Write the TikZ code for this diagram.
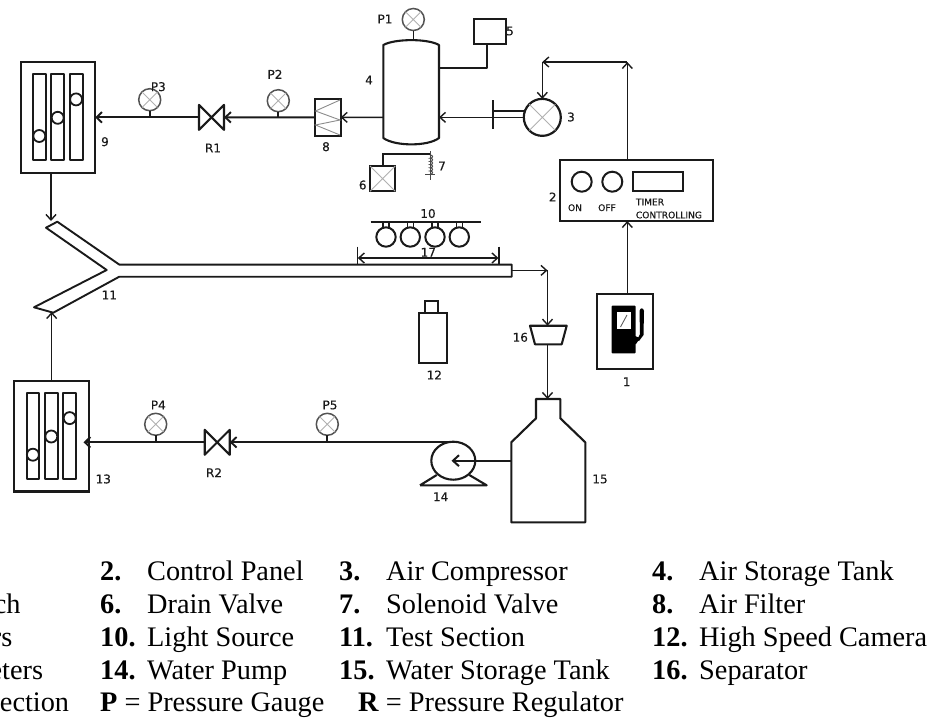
\documentclass[tikz,border=0pt]{standalone}
\usepackage{fontspec}
\setmainfont{Liberation Serif}
\newfontfamily\labfont[FakeBold=0.35]{DejaVu Sans}
\usetikzlibrary{arrows.meta,shapes.geometric}
\definecolor{ink}{HTML}{1A1A1A}
\definecolor{xgray}{HTML}{B0B0B0}
\tikzset{
  barb/.tip={Straight Barb[length=5.5pt,width=10pt,line width=1.4pt]},
  barbb/.tip={Straight Barb[length=5.5pt,width=10.5pt,line width=1.9pt]},
  pipe/.style={draw=ink,line width=2.2pt},
  wire/.style={draw=ink,line width=1.5pt},
  shapeline/.style={draw=ink,line width=2.1pt,line join=round},
  rbox/.style={shape=rectangle,draw=ink,line width=2.1pt,inner sep=0pt,outer sep=0pt,fill=white},
  ghost/.style={shape=rectangle,inner sep=0pt,outer sep=0pt},
  gaugecirc/.style={shape=circle,draw=ink!75,line width=1.5pt,minimum size=22pt,inner sep=0pt,outer sep=0pt},
  ball/.style={shape=circle,draw=ink,fill=white,line width=1.8pt,minimum size=12pt,inner sep=0pt,outer sep=0pt},
  xline/.style={draw=xgray,line width=0.9pt},
  lab/.style={font=\labfont\fontsize{12}{13}\selectfont,text=ink,inner sep=0pt},
  small/.style={font=\labfont\fontsize{9.1}{10}\selectfont,text=ink,inner sep=0pt},
  leg/.style={font=\fontsize{28.3}{29}\selectfont,text=black,inner sep=0pt,anchor=base west},
  legr/.style={font=\fontsize{28.3}{29}\selectfont,text=black,inner sep=0pt,anchor=base east},
}
\newcommand{\dlabel}[4]{\node[lab] (#1) at (#2,#3) {#4};}
\newcommand{\gauge}[3]{%
  \node[gaugecirc] (#1) at (#2,#3) {};
  \draw[xline] (#1.45) -- (#1.225) (#1.135) -- (#1.315);}
\newcommand{\valve}[3]{%
  \node[ghost,minimum width=25pt,minimum height=25pt] (#1) at (#2,#3) {};
  \draw[shapeline] (#1.north west) -- (#1.south east) -- (#1.north east) -- (#1.south west) -- cycle;}
\newcommand{\rotameter}[3]{%
  \node[rbox,anchor=north west,minimum width=74.4pt,minimum height=110.8pt] (#1) at (#2,#3) {};
  \begin{scope}[shift={(#2,#3)}]
    \draw[shapeline,line width=1.8pt] (12.3,12.3) rectangle (25,98.3);
    \draw[shapeline,line width=1.8pt] (30.6,12.3) rectangle (43.6,98.3);
    \draw[shapeline,line width=1.8pt] (49,12.3) rectangle (62,98.3);
    \node[ball] (#1a) at (18.6,74) {};
    \node[ball] (#1b) at (37,55.8) {};
    \node[ball] (#1c) at (55.4,37.4) {};
  \end{scope}}
\newcommand{\bulb}[2]{%
  \node[shape=circle,draw=ink,line width=2pt,minimum size=19.4pt,inner sep=0pt,outer sep=0pt] (#1) at (#2,237) {};
  \draw[ink,line width=1.4pt] (#2-3,221.7) -- (#2-3,228) (#2+3,221.7) -- (#2+3,228);}
\begin{document}
\begin{tikzpicture}[x=1pt,y=-1pt]
\useasboundingbox (0,0) rectangle (935,718);

% --- named free ends
\coordinate (c4L) at (383.3,117.35);
\coordinate (c4R) at (439,117.35);
\coordinate (barM) at (493,117.35);
\coordinate (tk4T) at (413.3,39);
\coordinate (tk5) at (439,68.3);
\coordinate (corner5) at (486.7,68.3);
\coordinate (topL) at (542.3,62);
\coordinate (topR) at (627.3,62);
\coordinate (yUp) at (51,221);
\coordinate (yLow) at (51.7,312);
\coordinate (tubeEnd) at (511.7,270.4);
\coordinate (sepCorner) at (547.5,270.4);
\coordinate (sepTop) at (547.5,325.7);
\coordinate (sepBot) at (547.5,344.3);
\coordinate (wTop) at (547.5,399);
\coordinate (wLeft) at (511.3,460.7);
\coordinate (pumpIn) at (451.5,460.7);
\coordinate (pumpTop) at (453.3,442.3);

% --- air storage tank 4
\node[ghost,minimum width=55.7pt,minimum height=105pt,anchor=north west] (t4) at (383.3,39) {};
\draw[shapeline] (383.3,45) .. controls (395,38.5) and (428,38.5) .. (439,45)
  -- (439,138) .. controls (428,146.5) and (395,146.5) .. (383.3,138) -- cycle;
\gauge{p1}{413.3}{19.5}
\draw[wire] (p1.south) -- (tk4T);
\dlabel{lP1}{385}{19}{P1}
\dlabel{l4}{369}{80}{4}

% --- box 5
\node[rbox,anchor=north west,minimum width=31.4pt,minimum height=25pt] (b5) at (474.3,19) {};
\draw[pipe,line width=1.9pt,line join=round] (b5.south -| corner5) -- (corner5) -- (tk5);
\dlabel{l5}{510}{31}{5}

% --- compressor 3
\node[shape=circle,draw=ink,line width=2.2pt,minimum size=37pt,inner sep=0pt,outer sep=0pt] (c3) at (542.3,117.35) {};
\draw[xline] (c3.45) -- (c3.225) (c3.135) -- (c3.315);
\draw[pipe] (493,100) -- (493,129);
\draw[wire,line width=1.7pt] (493,111) -- (525.3,111) (barM) -- (c3.west);
\draw[wire,-{barb}] (barM) -- (c4R);
\dlabel{l3}{571}{117}{3}

% --- drain and solenoid
\node[rbox,anchor=north west,minimum width=25.3pt,minimum height=25.3pt] (v6) at (370,166) {};
\draw[xline] (v6.north west) -- (v6.south east) (v6.north east) -- (v6.south west);
\draw[wire,line width=1.7pt] (382.7,166) -- (382.7,154) -- (430,154);
\draw[wire,line width=1pt,draw=ink!80] (430,151) -- (430,180) (425,174) -- (435,174);
\draw[wire,line width=1pt,draw=ink!80] (430,155) arc (-90:90:2.6 and 1.6)
  arc (-90:90:2.6 and 1.6) arc (-90:90:2.6 and 1.6) arc (-90:90:2.6 and 1.6) arc (-90:90:2.6 and 1.6) arc (-90:90:2.6 and 1.6);
\dlabel{l7}{442}{166}{7}
\dlabel{l6}{362.7}{185}{6}

% --- filter 8
\node[rbox,anchor=north west,minimum width=25.7pt,minimum height=36.7pt] (f8) at (315,99) {};
\draw[draw=ink!50,line width=0.9pt] (340,100) -- (315.5,111) -- (340,120) -- (315.5,125) -- (340,135);
\draw[wire,-{barb}] (c4L) -- (f8.east);
\dlabel{l8}{326}{146.7}{8}

% --- upper line
\valve{r1}{211.5}{117.35}
\draw[pipe,-{barbb}] (f8.west) -- (r1.east);
\gauge{p2}{278.3}{100.7}
\draw[wire,line width=1.7pt] (p2.south) -- (278.3,117.35);
\dlabel{lP2}{275}{74.3}{P2}
\dlabel{lR1}{213}{148}{R1}

\rotameter{b9}{20.7}{62}
\draw[pipe,-{barbb}] (r1.west) -- (b9.east |- r1.west);
\gauge{p3}{149.7}{99.7}
\draw[wire,line width=1.7pt] (p3.south) -- (149.7,117.35);
\dlabel{lP3}{158.3}{86.7}{P3}
\dlabel{l9}{105}{141.7}{9}

% --- test section 11
\draw[shapeline,line width=1.9pt] (511.7,264.6) -- (119.3,264.6) -- (57.3,221.7) -- (46,227.7) -- (106.7,270)
  -- (34,307.3) -- (53.3,312.7) -- (119.3,276.7) -- (511.7,276.7) -- cycle;
\draw[wire,-{barb}] (b9.south -| yUp) -- (yUp);
\dlabel{l11}{109.3}{295}{11}

% --- light source 10
\draw[pipe,line width=2pt] (370.7,221.7) -- (480.7,221.7);
\bulb{s1}{386}
\bulb{s2}{410.3}
\bulb{s3}{435}
\bulb{s4}{459.3}
\dlabel{l10}{428}{213.5}{10}

% --- dimension 17
\draw[wire,line width=1.6pt] (357.3,246.7) -- (357.3,264) (499,246.7) -- (499,264);
\draw[wire,{barb}-{barb}] (357.8,258) -- (498.5,258);
\dlabel{l17}{428.3}{252.3}{17}

% --- control panel 2
\node[rbox,anchor=north west,minimum width=153pt,minimum height=61pt] (pan) at (560,160) {};
\node[shape=circle,draw=ink,line width=2pt,minimum size=20pt,inner sep=0pt] (on) at (581.7,181.7) {};
\node[shape=circle,draw=ink,line width=2pt,minimum size=20pt,inner sep=0pt] (off) at (612.3,181.7) {};
\node[rbox,anchor=north west,minimum width=50pt,minimum height=18.7pt] (tim) at (633,172.3) {};
\node[small] (tON) at (575,207.7) {ON};
\node[small] (tOFF) at (607,207.7) {OFF};
\node[small,anchor=west] (tT) at (635.7,202) {TIMER};
\node[small,anchor=west] (tC) at (635.7,215) {CONTROLLING};
\dlabel{l2}{552.7}{197}{2}

% --- signal lines
\draw[wire,-{barb}] (pan.north -| topR) -- (topR);
\draw[wire,-{barb}] (topR) -- (topL);
\draw[wire,-{barb}] (topL) -- (c3.north);

% --- switch 1
\node[rbox,anchor=north west,minimum width=56pt,minimum height=74.4pt] (b1) at (596.7,294.3) {};
\draw[wire,-{barb}] (b1.north -| topR) -- (pan.south -| topR);
\fill[black,rounded corners=0.8pt] (611.7,305.7) rectangle (635.5,353.3);
\fill[black] (635,336) -- (640,338) -- (636,344) -- (635,344) -- cycle;
\fill[white] (616.7,312.3) rectangle (631,329);
\draw[ink!70,line width=0.9pt] (620.5,327) -- (627,315);
\fill[black] (639.5,311) .. controls (640,307.5) and (643.5,307.5) .. (644,311)
  -- (643.5,335) -- (639,341) -- (637,340) -- (640,334) -- cycle;
\dlabel{l1}{626.7}{381.7}{1}

% --- camera 12
\node[rbox,anchor=north west,minimum width=13.3pt,minimum height=12pt] (cam2) at (425,301) {};
\node[rbox,anchor=north west,minimum width=28.3pt,minimum height=49.7pt] (cam1) at (419,313) {};
\dlabel{l12}{434.3}{375}{12}

% --- separator 16
\draw[shapeline] (530,325.7) -- (566.7,325.7) -- (561.7,344.3) -- (535,344.3) -- cycle;
\draw[wire,-{barb}] (tubeEnd) -- (sepCorner);
\draw[wire,-{barb}] (sepCorner) -- (sepTop);
\draw[wire,-{barb}] (sepBot) -- (wTop);
\dlabel{l16}{520.3}{337.3}{16}

% --- water tank 15
\draw[shapeline] (536,399) -- (560.3,399) -- (560.3,418.3) -- (585.3,442.3) -- (585.3,522.3)
  -- (511.3,522.3) -- (511.3,442.3) -- (536,418.3) -- cycle;
\dlabel{l15}{600}{479}{15}

% --- pump 14
\draw[shapeline] (420,485.3) -- (486.7,485.3) -- (469.3,475) (436.7,475) -- (420,485.3);
\node[shape=ellipse,draw=ink,line width=2.1pt,fill=white,minimum width=44pt,minimum height=38pt,inner sep=0pt,outer sep=0pt] (pump) at (453.3,460.7) {};
\draw[pipe,-{Straight Barb[length=6pt,width=11pt,line width=2pt]}] (wLeft) -- (pumpIn);
\dlabel{l14}{440.7}{496.7}{14}

% --- lower line
\valve{r2}{217.2}{442.3}
\draw[pipe,-{barbb}] (pumpTop) -- (r2.east);
\gauge{p5}{327.3}{424.3}
\draw[wire,line width=1.7pt] (p5.south) -- (327.3,442.3);
\dlabel{lP5}{330}{405}{P5}
\dlabel{lR2}{214}{472.7}{R2}

\rotameter{b13}{14.3}{380.7}
\coordinate (b13in) at (83.5,442.3);
\draw[pipe,-{barbb}] (r2.west) -- (b13in);
\gauge{p4}{155.7}{424.3}
\draw[wire,line width=1.7pt] (p4.south) -- (155.7,442.3);
\dlabel{lP4}{158.3}{405}{P4}
\dlabel{l13}{103.3}{479}{13}
\draw[wire,-{barb}] (b13.north -| yLow) -- (yLow);

% --- legend
\node[legr] (k1) at (20.7,613) {ch};
\node[legr] (k2) at (12.5,646) {rs};
\node[legr] (k3) at (43.3,679) {eters};
\node[legr] (k4) at (69.3,711) {ection};
\node[leg] (a1) at (100,580) {\textbf{2.}};
\node[leg] (a2) at (147,580) {Control Panel};
\node[leg] (a3) at (339,580) {\textbf{3.}};
\node[leg] (a4) at (386,580) {Air Compressor};
\node[leg] (a5) at (652,580) {\textbf{4.}};
\node[leg] (a6) at (699,580) {Air Storage Tank};
\node[leg] (b1t) at (100,613) {\textbf{6.}};
\node[leg] (b2t) at (147,613) {Drain Valve};
\node[leg] (b3t) at (339,613) {\textbf{7.}};
\node[leg] (b4t) at (386,613) {Solenoid Valve};
\node[leg] (b5t) at (652,613) {\textbf{8.}};
\node[leg] (b6t) at (699,613) {Air Filter};
\node[leg] (c1t) at (100,646) {\textbf{10.}};
\node[leg] (c2t) at (147,646) {Light Source};
\node[leg] (c3t) at (339,646) {\textbf{11.}};
\node[leg] (c4t) at (386,646) {Test Section};
\node[leg] (c5t) at (652,646) {\textbf{12.}};
\node[leg] (c6t) at (699,646) {High Speed Camera};
\node[leg] (d1t) at (100,679) {\textbf{14.}};
\node[leg] (d2t) at (147,679) {Water Pump};
\node[leg] (d3t) at (339,679) {\textbf{15.}};
\node[leg] (d4t) at (386,679) {Water Storage Tank};
\node[leg] (d5t) at (652,679) {\textbf{16.}};
\node[leg] (d6t) at (699,679) {Separator};
\node[leg] (e1t) at (100,711) {\textbf{P} = Pressure Gauge};
\node[leg] (e2t) at (358,711) {\textbf{R} = Pressure Regulator};
\end{tikzpicture}
\end{document}
